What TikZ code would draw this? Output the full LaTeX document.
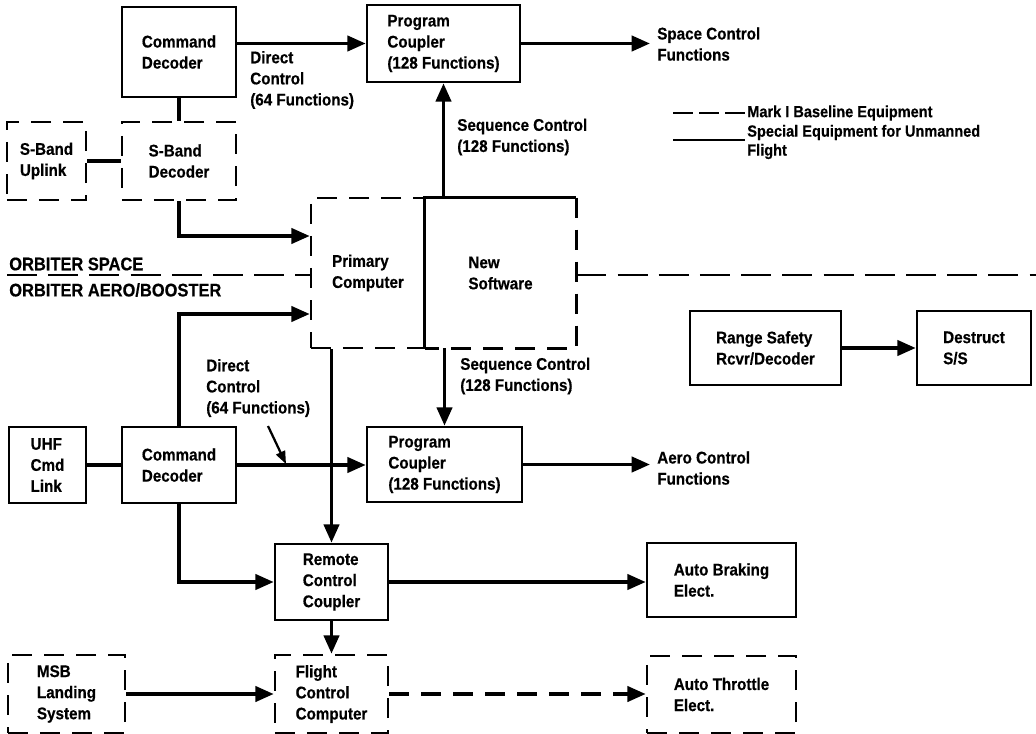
\documentclass[tikz,border=0pt]{standalone}
\usepackage{fontspec}
\setmainfont{Liberation Sans}[FakeStretch=0.9, BoldFeatures={FakeBold=0.5}]
\usetikzlibrary{arrows.meta,calc}

\begin{document}
\begin{tikzpicture}[x=0.025cm, y=-0.025cm,
        every node/.style={font=\fontsize{12}{15}\selectfont\bfseries, inner sep=0pt},
        unit/.style={draw, rectangle, line width=1.8pt, align=left},
        baseline unit/.style={unit, dash pattern=on 0.5cm off 0.3cm},
        conn/.style={line width=2.6pt},
        arr/.style={conn, -{Triangle[length=0.46cm,width=0.38cm]}},
        divider/.style={line width=1.8pt, dash pattern=on 0.75cm off 0.28cm},
        note/.style={anchor=west, align=left}]
        \useasboundingbox (0,0) rectangle (1036,734);

        % orbiter space side
        \node[unit, minimum width=2.85cm, minimum height=2.25cm] (cmdT) at (179,52) {Command\\Decoder};
        \node[unit, minimum width=3.825cm, minimum height=1.925cm] (pcT) at (443.5,43.5) {Program\\Coupler\\(128 Functions)};
        \node[baseline unit, minimum width=1.975cm, minimum height=1.95cm] (sbUp) at (46.5,161) {S-Band\\Uplink};
        \node[baseline unit, minimum width=2.85cm, minimum height=1.95cm] (sbDec) at (179,161) {S-Band\\Decoder};

        % computer
        \node[baseline unit, minimum width=2.85cm, minimum height=3.75cm] (prim) at (368,273) {Primary\\Computer};
        \node[align=left, minimum width=3.775cm, minimum height=3.75cm] (soft) at (500.5,273) {New\\Software};
        \draw[line width=1.8pt] (soft.south west) -- (soft.north west) -- (soft.north east);
        \draw[line width=1.8pt, dash pattern=on 0.5cm off 0.3cm] (soft.north east) -- (soft.south east) -- (soft.south west);

        % orbiter aero/booster side
        \node[unit, minimum width=1.925cm, minimum height=1.9cm] (uhf) at (47.5,465) {UHF\\Cmd\\Link};
        \node[unit, minimum width=2.85cm, minimum height=1.9cm] (cmdB) at (179,465) {Command\\Decoder};
        \node[unit, minimum width=3.875cm, minimum height=1.875cm] (pcB) at (444.5,464.5) {Program\\Coupler\\(128 Functions)};
        \node[unit, minimum width=2.825cm, minimum height=1.9cm] (rcc) at (331.5,582) {Remote\\Control\\Coupler};
        \node[unit, minimum width=3.725cm, minimum height=1.85cm] (brake) at (721.5,580) {Auto Braking\\Elect.};
        \node[baseline unit, minimum width=2.825cm, minimum height=1.95cm] (fcc) at (331.5,694) {Flight\\Control\\Computer};
        \node[baseline unit, minimum width=2.925cm, minimum height=1.95cm] (msb) at (66.5,694) {MSB\\Landing\\System};
        \node[baseline unit, minimum width=3.725cm, minimum height=1.925cm] (throttle) at (721.5,694.5) {Auto Throttle\\Elect.};
        \node[unit, minimum width=3.775cm, minimum height=1.85cm] (range) at (765.5,348) {Range Safety\\Rcvr/Decoder};
        \node[unit, minimum width=2.85cm, minimum height=1.85cm] (destruct) at (974,348) {Destruct\\S/S};

        % free ends
        \coordinate (spaceEnd) at (650,43.5);
        \coordinate (aeroEnd) at (650,464.5);
        \coordinate (divL) at (7,275);
        \coordinate (divR) at (1036,275);
        \coordinate (dcTail) at (268,426);
        \coordinate (dcTip) at (286,464);
        \coordinate (legA) at (673,113);
        \coordinate (legB) at (745,113);
        \coordinate (legC) at (673,140);
        \coordinate (legD) at (745,140);

        % labels
        \node[note] (dcTop) at (250,80) {Direct\\Control\\(64 Functions)};
        \node[note] (seqTop) at (457,137) {Sequence Control\\(128 Functions)};
        \node[note] (spaceFn) at (657,44) {Space Control\\Functions};
        \node[note, font=\fontsize{13}{15}\selectfont\bfseries] (orbSpace) at (9,264) {ORBITER SPACE};
        \node[note, font=\fontsize{13}{15}\selectfont\bfseries] (orbAero) at (9,290) {ORBITER AERO/BOOSTER};
        \node[note] (dcBot) at (206,388) {Direct\\Control\\(64 Functions)};
        \node[note] (seqBot) at (460,376) {Sequence Control\\(128 Functions)};
        \node[note] (aeroFn) at (657,468) {Aero Control\\Functions};
        \node[note, font=\fontsize{11.5}{13.5}\selectfont\bfseries] (legMark) at (747,113) {Mark I Baseline Equipment};
        \node[note, font=\fontsize{11.5}{13.5}\selectfont\bfseries] (legSpecial) at (747,142) {Special Equipment for Unmanned\\Flight};

        % legend
        \draw[line width=2pt, dash pattern=on 0.5cm off 0.15cm] (legA) -- (legB);
        \draw[line width=2pt] (legC) -- (legD);

        % divider
        \draw[divider] (divL) -- (divL -| prim.west);
        \draw[divider] (divR -| soft.east) -- (divR);

        % connectors, upper half
        \draw[arr] (cmdT.east |- pcT.west) -- (pcT.west);
        \draw[arr] (pcT.east) -- (spaceEnd);
        \draw[conn] (cmdT.south) -- (sbDec.north);
        \draw[conn] (sbUp.east) -- (sbDec.west);
        \draw[arr] (sbDec.south) |- ($(prim.west)+(0,-37)$);
        \draw[arr] (pcT.south |- soft.north) -- (pcT.south);

        % connectors, lower half
        \draw[arr] (cmdB.north) |- ($(prim.west)+(0,41)$);
        \draw[conn] (uhf.east) -- (cmdB.west);
        \draw[arr] (cmdB.east) -- (pcB.west |- cmdB.east);
        \draw[line width=1.6pt, -{Triangle[length=0.32cm,width=0.24cm]}] (dcTail) -- (dcTip);
        \draw[arr] (pcB.north |- soft.south) -- (pcB.north);
        \draw[arr] (pcB.east) -- (aeroEnd);
        \draw[arr] (prim.south -| rcc.north) -- (rcc.north);
        \draw[arr] (cmdB.south) |- (rcc.west);
        \draw[arr] (rcc.east) -- (brake.west |- rcc.east);
        \draw[arr] (rcc.south) -- (fcc.north);
        \draw[arr] (msb.east) -- (fcc.west);
        \draw[arr, dash pattern=on 0.5cm off 0.3cm] (fcc.east) -- (throttle.west |- fcc.east);
        \draw[arr] (range.east) -- (destruct.west);
\end{tikzpicture}
\end{document}
